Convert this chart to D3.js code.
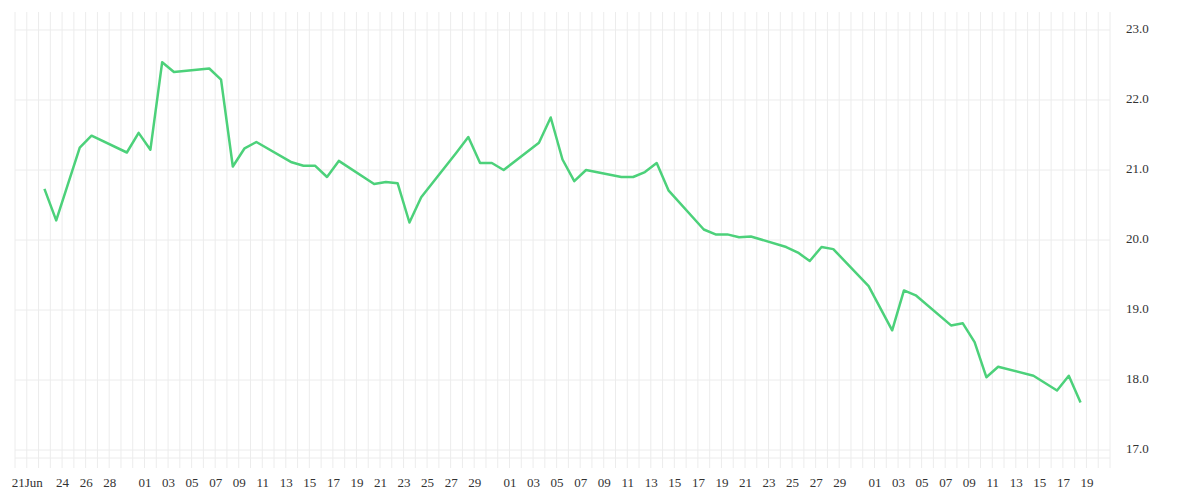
<!DOCTYPE html>
<html>
<head>
<meta charset="utf-8">
<script src="https://cdn.jsdelivr.net/npm/d3@7"></script>
<style>
  body { margin: 0; background: #fff; }
  text { font-family: "Liberation Serif", serif; }
</style>
</head>
<body>
<div id="chart"></div>
<script>
// readings taken at noon each day
const dates = [
  "2023-06-22", "2023-06-23", "2023-06-25", "2023-06-26", "2023-06-29", "2023-06-30",
  "2023-07-01", "2023-07-02", "2023-07-03", "2023-07-06", "2023-07-07", "2023-07-08",
  "2023-07-09", "2023-07-10", "2023-07-13", "2023-07-14", "2023-07-15", "2023-07-16",
  "2023-07-17", "2023-07-20", "2023-07-21", "2023-07-22", "2023-07-23", "2023-07-24",
  "2023-07-27", "2023-07-28", "2023-07-29", "2023-07-30", "2023-07-31", "2023-08-03",
  "2023-08-04", "2023-08-05", "2023-08-06", "2023-08-07", "2023-08-10", "2023-08-11",
  "2023-08-12", "2023-08-13", "2023-08-14", "2023-08-17", "2023-08-18", "2023-08-19",
  "2023-08-20", "2023-08-21", "2023-08-24", "2023-08-25", "2023-08-26", "2023-08-27",
  "2023-08-28", "2023-08-31", "2023-09-02", "2023-09-03", "2023-09-04", "2023-09-07",
  "2023-09-08", "2023-09-09", "2023-09-10", "2023-09-11", "2023-09-14", "2023-09-16",
  "2023-09-17", "2023-09-18"
];
const values = [
  20.73, 20.28, 21.32, 21.49, 21.25, 21.53,
  21.29, 22.54, 22.40, 22.45, 22.29, 21.05,
  21.31, 21.40, 21.11, 21.06, 21.06, 20.90,
  21.13, 20.80, 20.83, 20.81, 20.25, 20.61,
  21.25, 21.47, 21.10, 21.10, 21.00, 21.39,
  21.75, 21.15, 20.84, 21.00, 20.90, 20.90,
  20.97, 21.10, 20.71, 20.15, 20.08, 20.08,
  20.04, 20.05, 19.90, 19.82, 19.70, 19.90,
  19.87, 19.34, 18.71, 19.28, 19.21, 18.78,
  18.81, 18.54, 18.04, 18.19, 18.06, 17.85,
  18.06, 17.68
];
const tickDates = [
  "2023-06-21", "2023-06-24", "2023-06-26", "2023-06-28",
  "2023-07-01", "2023-07-03", "2023-07-05", "2023-07-07", "2023-07-09", "2023-07-11",
  "2023-07-13", "2023-07-15", "2023-07-17", "2023-07-19", "2023-07-21", "2023-07-23",
  "2023-07-25", "2023-07-27", "2023-07-29",
  "2023-08-01", "2023-08-03", "2023-08-05", "2023-08-07", "2023-08-09", "2023-08-11",
  "2023-08-13", "2023-08-15", "2023-08-17", "2023-08-19", "2023-08-21", "2023-08-23",
  "2023-08-25", "2023-08-27", "2023-08-29",
  "2023-09-01", "2023-09-03", "2023-09-05", "2023-09-07", "2023-09-09", "2023-09-11",
  "2023-09-13", "2023-09-15", "2023-09-17", "2023-09-19"
];
const yTicks = [17, 18, 19, 20, 21, 22, 23];

const width = 1200, height = 500,
    m = {left: 15, right: 1110, top: 12, bottom: 458};

const parse = d3.timeParse("%Y-%m-%d");
const data = dates.map((d, i) => ({date: d3.timeHour.offset(parse(d), 12), value: values[i]}));

const svg = d3.select("#chart").append("svg")
    .attr("width", width).attr("height", height);

const x = d3.scaleTime()
    .domain([parse("2023-06-20"), parse("2023-09-21")])
    .range([m.left, m.right]);
const y = d3.scaleLinear()
    .domain([16.886, 23.257])
    .range([m.bottom, m.top]);

// daily vertical grid, runs a bit below the plot like ticks
svg.append("g")
    .selectAll("line")
    .data(d3.timeDay.range(x.domain()[0], d3.timeDay.offset(x.domain()[1], 1)))
    .join("line")
    .attr("x1", d => x(d)).attr("x2", d => x(d))
    .attr("y1", m.top).attr("y2", m.bottom + 10)
    .attr("stroke", "#ececec").attr("stroke-width", 1);

// horizontal grid
svg.append("g")
    .selectAll("line")
    .data(yTicks.concat([y.domain()[0]]))
    .join("line")
    .attr("x1", m.left).attr("x2", m.right)
    .attr("y1", d => y(d)).attr("y2", d => y(d))
    .attr("stroke", "#ececec").attr("stroke-width", 1);

// x labels
const fmt = d => d3.timeFormat("%d")(d) + (d.getMonth() === 5 && d.getDate() === 21 ? "Jun" : "");
svg.append("g")
    .attr("transform", `translate(0,${m.bottom})`)
    .call(d3.axisBottom(x).tickValues(tickDates.map(parse)).tickFormat(fmt).tickSize(0).tickPadding(20))
    .call(g => g.select(".domain").remove())
    .call(g => g.selectAll("text").attr("fill", "#333").attr("font-size", 13));

// y labels on the right
svg.append("g")
    .attr("transform", `translate(${m.right},0)`)
    .call(d3.axisRight(y).tickValues(yTicks).tickSize(0).tickPadding(16))
    .call(g => g.select(".domain").remove())
    .call(g => g.selectAll("text").attr("fill", "#333").attr("font-size", 13).attr("dy", "0.2em"));

const line = d3.line()
    .x(d => x(d.date))
    .y(d => y(d.value));

svg.append("path")
    .datum(data)
    .attr("fill", "none")
    .attr("stroke", "#4cd17a")
    .attr("stroke-width", 2.5)
    .attr("stroke-linejoin", "round")
    .attr("d", line);
</script>
</body>
</html>
